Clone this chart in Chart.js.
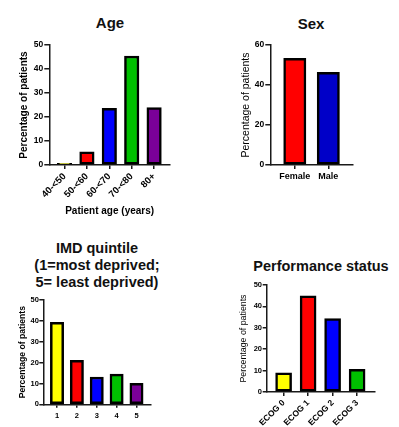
<!DOCTYPE html>
<html>
<head>
<meta charset="utf-8">
<script src="https://cdn.jsdelivr.net/npm/chart.js@4.4.1/dist/chart.umd.min.js"></script>
<style>
  body { margin: 0; background: #fff; width: 399px; height: 427px; position: relative; overflow: hidden; }
  canvas { position: absolute; }
  .ttl { position: absolute; width: 200px; text-align: center; font-family: 'Liberation Sans', Arial, sans-serif; font-weight: bold; color: #111; white-space: nowrap; }
</style>
</head>
<body>
<div class="ttl" style="left:10px;top:14px;font-size:15px;line-height:18px">Age</div>
<div class="ttl" style="left:211px;top:15px;font-size:15px;line-height:18px">Sex</div>
<div class="ttl" style="left:-3px;top:239.5px;font-size:14.5px;line-height:17px">IMD quintile<br>(1=most deprived;<br>5= least deprived)</div>
<div class="ttl" style="left:221px;top:258px;font-size:14.5px;line-height:17px">Performance status</div>

<canvas id="ageChart" width="200" height="220" style="left:0;top:0"></canvas>
<canvas id="sexChart" width="199" height="220" style="left:200px;top:0"></canvas>
<canvas id="imdChart" width="200" height="207" style="left:0;top:220px"></canvas>
<canvas id="ecogChart" width="199" height="207" style="left:200px;top:220px"></canvas>

<script>
// data (percentage of patients)
const ageLabels = ['40-<50', '50-<60', '60-<70', '70-<80', '80+'];
const ageValues = [0.7, 5.5, 23.6, 45.4, 23.9];

const sexLabels = ['Female', 'Male'];
const sexValues = [53.3, 46.3];

const imdLabels = ['1', '2', '3', '4', '5'];
const imdValues = [39.3, 21.1, 13.1, 14.5, 10.1];

const ecogLabels = ['ECOG 0', 'ECOG 1', 'ECOG 2', 'ECOG 3'];
const ecogValues = [9.0, 44.9, 34.3, 10.6];

const yMaxAge = 50, yStepAge = 10;
const yMaxSex = 60, yStepSex = 20;
const yMaxImd = 50, yStepImd = 10;
const yMaxEcog = 50, yStepEcog = 10;

const YELLOW = '#FFFF00', RED = '#FF0000', BLUE = '#0000FF', GREEN = '#00C000', PURPLE = '#7A0098';

Chart.defaults.font.family = "'Liberation Sans', Arial, sans-serif";
Chart.defaults.color = '#000';

function makeChart(id, o) {
  const ax = '#1a1a1a';
  return new Chart(document.getElementById(id), {
    type: 'bar',
    data: {
      datasets: [{
        data: o.values.map((v, i) => ({ x: i, y: v })),
        backgroundColor: o.colors,
        borderColor: '#000',
        borderWidth: 2.5,
        borderSkipped: false,
        barThickness: o.barW
      }]
    },
    options: {
      responsive: false,
      animation: false,
      devicePixelRatio: 1,
      layout: { padding: { top: o.top, left: 0, right: o.right, bottom: 0 } },
      plugins: { legend: { display: false }, tooltip: { enabled: false }, title: { display: false } },
      scales: {
        x: {
          type: 'linear',
          offset: false,
          min: o.xMin, max: o.xMax,
          afterFit: s => { s.height = o.xH; },
          border: { display: true, color: ax, width: 1.5 },
          grid: { display: true, offset: false, drawOnChartArea: false, drawTicks: true, tickLength: o.xTick, color: ax, lineWidth: 1.5 },
          ticks: {
            stepSize: 1, includeBounds: false, autoSkip: false,
            minRotation: o.rot, maxRotation: o.rot,
            padding: o.xPad, color: '#000',
            font: { size: o.xFont, weight: 'bold' },
            callback: v => o.labels[v]
          },
          title: o.xTitle ? { display: true, text: o.xTitle, color: '#000', font: { size: 10, weight: 'bold' }, padding: { top: 0, bottom: o.xTitlePad } } : { display: false }
        },
        y: {
          min: 0, max: o.yMax,
          afterFit: s => { s.width = o.yW; },
          border: { display: true, color: ax, width: 1.5 },
          grid: { display: true, drawOnChartArea: false, drawTicks: true, tickLength: o.yTick, color: ax, lineWidth: 1.5 },
          ticks: { stepSize: o.yStep, padding: o.yPad, color: '#000', font: { size: o.yFont, weight: 'bold' } },
          title: { display: true, text: 'Percentage of patients', color: '#000', font: { size: o.yTitleSize, weight: o.yTitleWeight }, padding: { top: o.yTitlePad, bottom: 0 } }
        }
      }
    }
  });
}

makeChart('ageChart', {
  labels: ageLabels, values: ageValues, colors: [YELLOW, RED, BLUE, GREEN, PURPLE],
  barW: 14.5, top: 45, right: 30, yW: 49.3, xH: 55,
  xMin: -0.68, xMax: 4.71, rot: 45, xFont: 9.5, xTick: 4, xPad: 2,
  xTitle: 'Patient age (years)', xTitlePad: 2.3,
  yMax: yMaxAge, yStep: yStepAge, yFont: 8.5, yTick: 5, yPad: 1,
  yTitleSize: 10, yTitleWeight: 'bold', yTitlePad: 18.5
});

makeChart('sexChart', {
  labels: sexLabels, values: sexValues, colors: [RED, '#0000C8'],
  barW: 22.3, top: 45, right: 46.7, yW: 70.3, xH: 55,
  xMin: -0.731, xMax: 1.716, rot: 0, xFont: 9, xTick: 4, xPad: 2.5,
  yMax: yMaxSex, yStep: yStepSex, yFont: 8.5, yTick: 5, yPad: 1,
  yTitleSize: 10.5, yTitleWeight: 'normal', yTitlePad: 39.7
});

makeChart('imdChart', {
  labels: imdLabels, values: imdValues, colors: [YELLOW, RED, BLUE, GREEN, PURPLE],
  barW: 13.3, top: 80, right: 49, yW: 43.3, xH: 22.7,
  xMin: -0.69, xMax: 4.73, rot: 0, xFont: 7.5, xTick: 3.5, xPad: 3.5,
  yMax: yMaxImd, yStep: yStepImd, yFont: 7.5, yTick: 4, yPad: 0.5,
  yTitleSize: 8.6, yTitleWeight: 'bold', yTitlePad: 17.1
});

makeChart('ecogChart', {
  labels: ecogLabels, values: ecogValues, colors: [YELLOW, RED, BLUE, GREEN],
  barW: 16, top: 65, right: 24, yW: 66.7, xH: 35,
  xMin: -0.69, xMax: 3.73, rot: 45, xFont: 8.5, xTick: 4, xPad: 2,
  yMax: yMaxEcog, yStep: yStepEcog, yFont: 7.5, yTick: 4, yPad: 0.7,
  yTitleSize: 8.8, yTitleWeight: 'normal', yTitlePad: 38
});
</script>
</body>
</html>
